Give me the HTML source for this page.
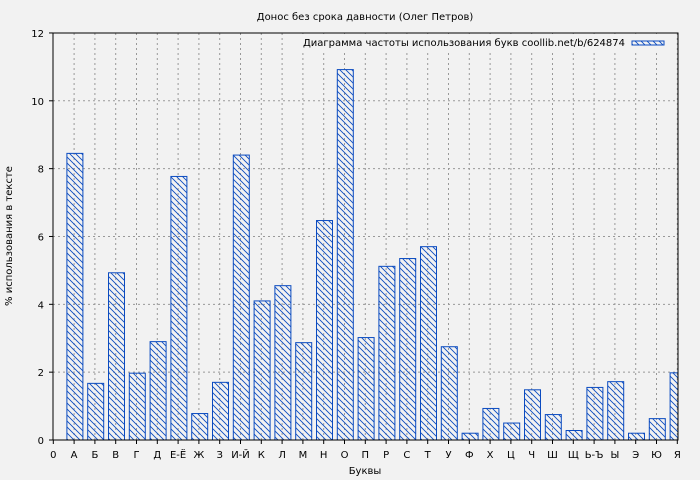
<!DOCTYPE html>
<html><head><meta charset="utf-8"><style>body{margin:0;background:#f2f2f2}svg{display:block}</style></head>
<body>
<svg width="700" height="480" xmlns="http://www.w3.org/2000/svg" font-family="DejaVu Sans, Liberation Sans, sans-serif">
<defs>
<pattern id="h" patternUnits="userSpaceOnUse" width="6" height="6">
<path d="M-1,-1 L7,7 M-7,-1 L1,7 M5,-1 L13,7" stroke="#0b4bc0" stroke-width="0.9"/>
</pattern>
<clipPath id="c"><rect x="53" y="33" width="625" height="407"/></clipPath>
</defs>
<rect width="700" height="480" fill="#f2f2f2"/>
<text x="365" y="20" font-size="10" text-anchor="middle">Донос без срока давности (Олег Петров)</text>
<g id="grid" stroke="#999" stroke-width="1" stroke-dasharray="2,3"></g>
<g id="bars" clip-path="url(#c)"></g>
<rect x="285" y="34" width="385" height="17" fill="#f2f2f2"/>
<text x="625" y="46" font-size="10" text-anchor="end">Диаграмма частоты использования букв coollib.net/b/624874</text>
<rect x="632" y="41" width="32" height="4" fill="url(#h)" stroke="#0b4bc0"/>
<rect x="53" y="33" width="625" height="407" fill="none" stroke="#000"/>
<g id="ax" font-size="10"></g>
<text x="365" y="474" font-size="10" text-anchor="middle">Буквы</text>
<text transform="translate(12,236) rotate(-90)" font-size="10" text-anchor="middle">% использования в тексте</text>
<script>
const ns="http://www.w3.org/2000/svg";
const L=["0","А","Б","В","Г","Д","Е-Ё","Ж","З","И-Й","К","Л","М","Н","О","П","Р","С","Т","У","Ф","Х","Ц","Ч","Ш","Щ","Ь-Ъ","Ы","Э","Ю","Я"];
const V=[8.45,1.67,4.93,1.97,2.9,7.77,0.78,1.7,8.4,4.1,4.55,2.87,6.47,10.92,3.02,5.12,5.35,5.7,2.75,0.2,0.93,0.5,1.48,0.75,0.28,1.55,1.72,0.2,0.63,1.98];
const g=document.getElementById('grid'),b=document.getElementById('bars'),a=document.getElementById('ax');
function el(p,t,at,tx){const e=document.createElementNS(ns,t);for(const k in at)e.setAttribute(k,at[k]);if(tx)e.textContent=tx;p.appendChild(e);return e;}
const X=i=>53.3+20.8*i, Y=v=>440-v*33.92;
for(let i=1;i<31;i++)el(g,'line',{x1:X(i),x2:X(i),y1:33,y2:440});
for(let v=2;v<12;v+=2)el(g,'line',{x1:53,x2:678,y1:Y(v),y2:Y(v)});
V.forEach((v,i)=>{const c=X(i+1)+0.8;el(b,'rect',{x:c-8,y:Y(v),width:16,height:440-Y(v),fill:'url(#h)',stroke:'#0b4bc0','stroke-width':1});});
for(let i=0;i<31;i++){el(a,'line',{x1:X(i),x2:X(i),y1:440,y2:444,stroke:'#000'});el(a,'text',{x:X(i),y:458,'text-anchor':'middle'},L[i]);}
for(let v=0;v<=12;v+=2){el(a,'line',{x1:49,x2:53,y1:Y(v),y2:Y(v),stroke:'#000'});el(a,'text',{x:44,y:Y(v)+4,'text-anchor':'end'},String(v));}
</script>
</svg>
</body></html>
